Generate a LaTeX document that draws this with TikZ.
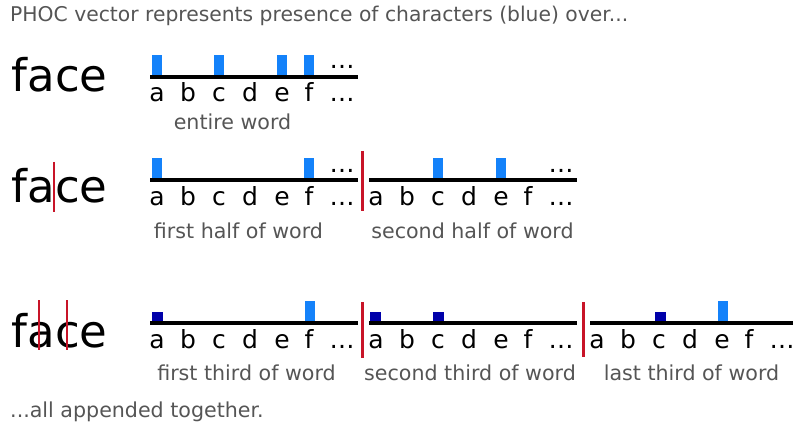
\documentclass[tikz,border=0pt]{standalone}
\usepackage{fontspec}
\setmainfont{DejaVu Sans}
\definecolor{barlight}{RGB}{20,130,250}
\definecolor{bardark}{RGB}{0,0,170}
\definecolor{cutred}{RGB}{200,20,40}
\definecolor{captiongray}{RGB}{85,85,85}

% One PHOC histogram: #1 name, #2 left end x, #3 axis y,
% #4 list of bars  offset/height/width/colour
\newcommand\phocaxis[4]{%
  \foreach \dx/\h/\w/\col in {#4}
    \fill[\col] (#2+\dx-\w/2,#3) rectangle (#2+\dx+\w/2,#3-\h);
  \coordinate (#1-w) at (#2,#3);
  \coordinate (#1-e) at (#2+208,#3);
  \draw[axis] (#1-w) -- (#1-e);
  \foreach \ch/\dx [count=\k] in {a/7,b/38,c/69,d/100,e/132,f/159,…/192}
    \node[letter] (#1-\k) at (#2+\dx,#3+25) {\ch};
}

\begin{document}
\begin{tikzpicture}[x=1pt,y=-1pt,
  word/.style={font=\fontsize{45}{45}\selectfont, anchor=base west, inner sep=0pt},
  letter/.style={font=\fontsize{25}{25}\selectfont, anchor=base, inner sep=0pt},
  caption/.style={font=\fontsize{20.6}{20.6}\selectfont, text=captiongray, anchor=base, inner sep=0pt},
  axis/.style={line width=3.2pt},
  cut/.style={draw=cutred, line width=2.8pt},
  thincut/.style={draw=cutred, line width=2pt}]
\useasboundingbox (0,0) rectangle (793,425);
\clip (0,0) rectangle (793,425);

\node[caption, anchor=base west, font=\fontsize{20.3}{20.3}\selectfont] (title) at (10,22)
  {PHOC vector represents presence of characters (blue) over...};

% entire word
\node[word] (w1) at (11.5,92) {face};
\phocaxis{r1}{150}{77}{7/22/10.5/barlight, 69/22/10.5/barlight, 132/22/10.5/barlight, 159/22/10.5/barlight}
\node[letter] (r1-more) at (342,69) {…};
\node[caption] (c1) at (232.5,130) {entire word};

% halves
\node[word] (w2) at (11.5,203) {face};
\coordinate (h2t) at (54,162);
\coordinate (h2b) at (54,212);
\draw[thincut] (h2t) -- (h2b);
\phocaxis{r2a}{150}{180}{7/22/10.5/barlight, 159/22/10.5/barlight}
\phocaxis{r2b}{369}{180}{69/22/10.5/barlight, 132/22/10.5/barlight}
\node[letter] (r2a-more) at (342,172) {…};
\node[letter] (r2b-more) at (561,172) {…};
\coordinate (s2t) at (362.5,151);
\coordinate (s2b) at (362.5,211);
\draw[cut] (s2t) -- (s2b);
\node[caption] (c2a) at (238.5,238) {first half of word};
\node[caption] (c2b) at (472.5,238) {second half of word};

% thirds
\node[word] (w3) at (11.5,347) {face};
\coordinate (h3at) at (39,300);
\coordinate (h3ab) at (39,350);
\coordinate (h3bt) at (67,300);
\coordinate (h3bb) at (67,350);
\draw[thincut] (h3at) -- (h3ab);
\draw[thincut] (h3bt) -- (h3bb);
\phocaxis{r3a}{150}{323}{7/11/11/bardark, 160/22/10/barlight}
\phocaxis{r3b}{369}{323}{6/11/11/bardark, 69/11/11/bardark}
\phocaxis{r3c}{590}{323}{70.5/11/11/bardark, 133/22/10/barlight}
\coordinate (s3at) at (362.5,302);
\coordinate (s3ab) at (362.5,358);
\coordinate (s3bt) at (583.5,302);
\coordinate (s3bb) at (583.5,357);
\draw[cut] (s3at) -- (s3ab);
\draw[cut] (s3bt) -- (s3bb);
\node[caption] (c3a) at (246.5,380) {first third of word};
\node[caption] (c3b) at (470,380) {second third of word};
\node[caption] (c3c) at (691.5,380) {last third of word};

\node[caption, anchor=base west] (outro) at (10,417) {...all appended together.};
\end{tikzpicture}
\end{document}
